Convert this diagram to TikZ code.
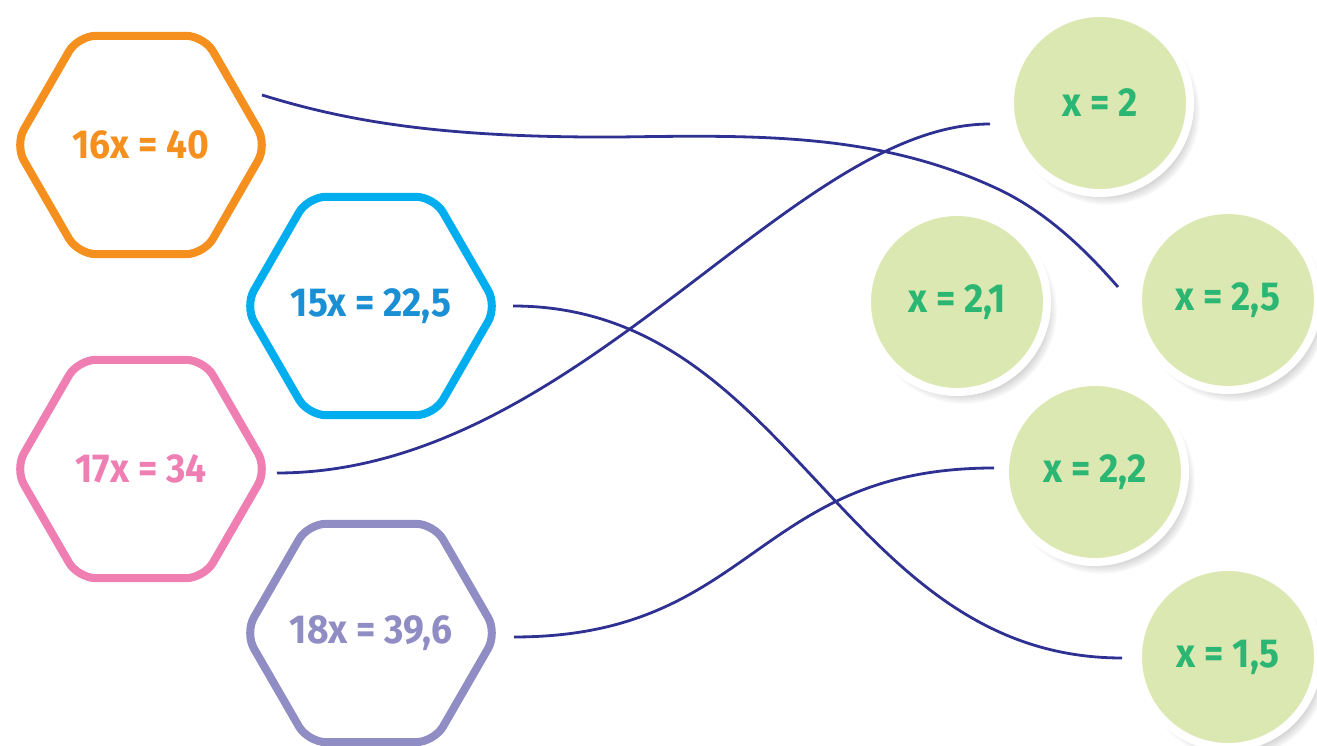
\documentclass[tikz,border=0pt]{standalone}
\usepackage{fontspec}
\setmainfont{Fira Sans}[FakeStretch=0.92]
\usetikzlibrary{shapes.geometric, shadows, calc}

\definecolor{hexorange}{HTML}{F5901E}
\definecolor{hexblue}{HTML}{00AEEF}
\definecolor{txtblue}{HTML}{1B8FD3}
\definecolor{hexpink}{HTML}{EF7EB3}
\definecolor{hexpurple}{HTML}{908CC4}
\definecolor{solfill}{HTML}{DCE8B2}
\definecolor{soltext}{HTML}{2BB673}
\definecolor{wire}{HTML}{2E3192}

\newcommand{\eqlabel}[1]{\makebox[0pt]{#1}}

\begin{document}
\begin{tikzpicture}[x=0.01cm, y=-0.01cm,
            eq/.style={regular polygon, regular polygon sides=6, minimum size=2.52cm, inner sep=0pt,
                       line width=0.08cm, rounded corners=0.18cm, draw=#1, fill=white,
                       font=\bfseries\fontsize{11.5}{13}\selectfont},
            sol/.style={circle, minimum size=1.8cm, inner sep=0pt, fill=solfill, draw=white, line width=0.08cm,
                        circular drop shadow={shadow xshift=0.6mm, shadow yshift=-0.8mm, shadow scale=1.04, opacity=0.45},
                        text=soltext, font=\bfseries\fontsize{11.5}{13}\selectfont},
            match/.style={wire, line width=0.028cm}
        ]
            \useasboundingbox (0,0) rectangle (1317,746);

            % --- Gleichungen ---
            \node[eq=hexorange, text=hexorange] (h16) at (141,145) {\eqlabel{16x = 40}};
            \node[eq=hexblue, text=txtblue] (h15) at (371,306) {\eqlabel{15x = 22,5}};
            \node[eq=hexpink, text=hexpink] (h17) at (141,469) {\eqlabel{17x = 34}};
            \node[eq=hexpurple, text=hexpurple] (h18) at (371,633) {\eqlabel{18x = 39,6}};

            % --- Lösungen ---
            \node[sol] (c2) at (1100,103) {x = 2};
            \node[sol] (c21) at (957,302) {x = 2,1};
            \node[sol] (c25) at (1228,300) {x = 2,5};
            \node[sol] (c22) at (1095,472) {x = 2,2};
            \node[sol] (c15) at (1228,657) {x = 1,5};

            % Zuordnungslinien
            \draw[match] ([shift={(121,-50)}]h16.center) .. controls +(90,28) and +(-170,1) .. (620,137)
                .. controls +(140,-2) and +(-120,-57) .. (1000,190)
                .. controls +(50,24) and +(-28,-32) .. ([shift={(-110,-13)}]c25.center);
            \draw[match] ([shift={(136,4)}]h17.center) .. controls +(300,0) and +(-200,0) .. ([shift={(-110,21)}]c2.center);
            \draw[match] ([shift={(142,0)}]h15.center) .. controls +(280,0) and +(-280,0) .. ([shift={(-106,1)}]c15.center);
            \draw[match] ([shift={(143,4)}]h18.center) .. controls +(240,0) and +(-240,0) .. ([shift={(-101,-4)}]c22.center);
        \end{tikzpicture}
\end{document}
